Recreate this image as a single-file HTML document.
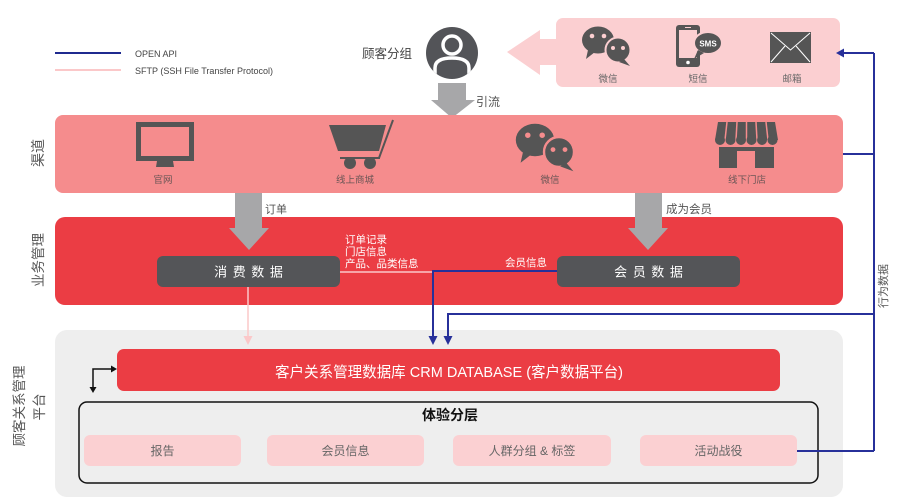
<!DOCTYPE html>
<html><head><meta charset="utf-8"><style>
html,body{margin:0;padding:0;background:#fff;}
svg{display:block;}
text{font-family:"Liberation Sans","Noto Sans CJK SC",sans-serif;}
</style></head><body>
<svg width="900" height="504" viewBox="0 0 900 504" xmlns="http://www.w3.org/2000/svg">
<defs>
<clipPath id="pc"><circle cx="452" cy="53" r="26"/></clipPath>
</defs>
<rect width="900" height="504" fill="#fff"/>

<!-- Legend -->
<line x1="55" y1="53" x2="121" y2="53" stroke="#1f2a8f" stroke-width="2"/>
<line x1="55" y1="70" x2="121" y2="70" stroke="#fbc8c9" stroke-width="2"/>
<text x="135" y="57" font-size="9" fill="#444">OPEN API</text>
<text x="135" y="74" font-size="9" fill="#444" textLength="138" lengthAdjust="spacingAndGlyphs">SFTP (SSH File Transfer Protocol)</text>

<!-- 顾客分组 -->
<text x="362" y="58" font-size="12.5" fill="#444">顾客分组</text>
<circle cx="452" cy="53" r="26" fill="#535458"/>
<g clip-path="url(#pc)">
<circle cx="452" cy="45" r="9" fill="none" stroke="#fff" stroke-width="3.5"/>
<path d="M435,78 L435,68 Q435,58 452,58 Q469,58 469,68 L469,78" fill="none" stroke="#fff" stroke-width="3.5"/>
</g>

<!-- 引流 arrow -->
<polygon points="438,83 466,83 466,100 475,100 452,118 431,100 438,100" fill="#a7a7a9"/>
<text x="476" y="106" font-size="12" fill="#555">引流</text>

<!-- top-right box and pink arrow -->
<polygon points="507,52 540,30 540,39 558,39 558,65 540,65 540,75" fill="#fbcfd1"/>
<rect x="556" y="18" width="284" height="69" rx="7" fill="#fbcfd1"/>

<!-- wechat top -->
<g transform="translate(598,40)">
<ellipse cx="0" cy="0" rx="16" ry="13.5" fill="#555"/>
<polygon points="-10,10 -12,19 -3,12" fill="#555"/>
<circle cx="-6" cy="-4" r="2.3" fill="#fbcfd1"/>
<circle cx="6" cy="-4" r="2.3" fill="#fbcfd1"/>
<circle cx="20" cy="10" r="12.5" fill="#555" stroke="#fbcfd1" stroke-width="2"/>
<polygon points="26,19 32,26 21,22" fill="#555"/>
<circle cx="15" cy="8" r="2" fill="#fbcfd1"/>
<circle cx="25" cy="8" r="2" fill="#fbcfd1"/>
</g>
<text x="608" y="82" font-size="9.5" fill="#666" text-anchor="middle">微信</text>

<!-- phone -->
<rect x="676" y="25" width="24" height="42" rx="3" fill="#555"/>
<rect x="679" y="30" width="18" height="28" fill="#fbcfd1"/>
<line x1="685" y1="27.5" x2="691" y2="27.5" stroke="#fbcfd1" stroke-width="1"/>
<circle cx="688" cy="62.5" r="1.8" fill="#fff"/>
<ellipse cx="708" cy="43" rx="14" ry="11" fill="#555" stroke="#fbcfd1" stroke-width="2"/>
<polygon points="698,50 694,59 704,53" fill="#555"/>
<text x="708" y="46.5" font-size="8" font-weight="bold" fill="#fff" text-anchor="middle">SMS</text>
<text x="698" y="82" font-size="9.5" fill="#666" text-anchor="middle">短信</text>

<!-- envelope -->
<rect x="770" y="32" width="41" height="31" fill="#555"/>
<polyline points="771,33 790.5,50 810,33" fill="none" stroke="#fff" stroke-width="1"/>
<line x1="771" y1="62" x2="785" y2="46" stroke="#fff" stroke-width="1"/>
<line x1="810" y1="62" x2="796" y2="46" stroke="#fff" stroke-width="1"/>
<text x="792" y="82" font-size="9.5" fill="#666" text-anchor="middle">邮箱</text>

<!-- 渠道 box -->
<rect x="55" y="115" width="788" height="78" rx="8" fill="#f58c8d"/>
<text transform="translate(43,153) rotate(-90)" font-size="14" fill="#555" text-anchor="middle">渠道</text>

<!-- monitor -->
<rect x="136" y="122" width="58" height="39" fill="#555"/>
<rect x="141" y="127" width="48" height="29" fill="#f58c8d"/>
<polygon points="157,161 173,161 174,167 156,167" fill="#555"/>
<text x="163" y="183" font-size="9.5" fill="#6a5555" text-anchor="middle">官网</text>

<!-- cart -->
<polygon points="329,125 386,125 379,151 338,151" fill="#555"/>
<line x1="393" y1="120" x2="379" y2="158" stroke="#555" stroke-width="2"/>
<line x1="340" y1="158" x2="380" y2="158" stroke="#555" stroke-width="2"/>
<circle cx="350" cy="163" r="6" fill="#555"/>
<circle cx="370" cy="163" r="6" fill="#555"/>
<text x="355" y="183" font-size="9.5" fill="#6a5555" text-anchor="middle">线上商城</text>

<!-- wechat channel -->
<g transform="translate(535,140) scale(1.2)">
<ellipse cx="0" cy="0" rx="16" ry="13.5" fill="#555"/>
<polygon points="-10,10 -12,19 -3,12" fill="#555"/>
<circle cx="-6" cy="-4" r="2.3" fill="#f58c8d"/>
<circle cx="6" cy="-4" r="2.3" fill="#f58c8d"/>
<circle cx="20" cy="10" r="12.5" fill="#555" stroke="#f58c8d" stroke-width="2"/>
<polygon points="26,19 32,26 21,22" fill="#555"/>
<circle cx="15" cy="8" r="2" fill="#f58c8d"/>
<circle cx="25" cy="8" r="2" fill="#f58c8d"/>
</g>
<text x="550" y="183" font-size="9.5" fill="#6a5555" text-anchor="middle">微信</text>

<!-- store -->
<polygon points="718,122 775,122 778,140 715,140" fill="#555"/>
<g stroke="#f58c8d" stroke-width="1.5">
<line x1="727" y1="122" x2="725" y2="140"/>
<line x1="737" y1="122" x2="736" y2="140"/>
<line x1="746.5" y1="122" x2="746.5" y2="140"/>
<line x1="756" y1="122" x2="757" y2="140"/>
<line x1="766" y1="122" x2="768" y2="140"/>
</g>
<g fill="#555">
<circle cx="720" cy="140" r="5"/><circle cx="730.5" cy="140" r="5"/><circle cx="741" cy="140" r="5"/><circle cx="751.5" cy="140" r="5"/><circle cx="762" cy="140" r="5"/><circle cx="772.5" cy="140" r="5"/>
</g>
<rect x="719" y="147" width="55" height="21" fill="#555"/>
<rect x="737" y="151" width="18" height="17" fill="#f58c8d"/>
<text x="747" y="183" font-size="9.5" fill="#6a5555" text-anchor="middle">线下门店</text>

<!-- 订单 arrow -->
<polygon points="235,193 262,193 262,228 269,228 249,250 229,228 235,228" fill="#a7a7a9"/>
<text x="265" y="213" font-size="11" fill="#555">订单</text>
<!-- 成为会员 arrow -->
<polygon points="635,193 662,193 662,228 668,228 648,250 628,228 635,228" fill="#a7a7a9"/>
<text x="666" y="213" font-size="11.5" fill="#555">成为会员</text>

<!-- 业务管理 box -->
<rect x="55" y="217" width="788" height="88" rx="10" fill="#eb3d44"/>
<text transform="translate(43,260) rotate(-90)" font-size="13.5" fill="#555" text-anchor="middle">业务管理</text>

<!-- redraw arrows tips over biz box -->
<polygon points="235,217 262,217 262,228 269,228 249,250 229,228 235,228" fill="#a7a7a9"/>
<polygon points="635,217 662,217 662,228 668,228 648,250 628,228 635,228" fill="#a7a7a9"/>

<rect x="157" y="256" width="183" height="31" rx="6" fill="#545558"/>
<text x="249" y="276.5" font-size="13" fill="#fff" text-anchor="middle" letter-spacing="1">消 费 数 据</text>
<rect x="557" y="256" width="183" height="31" rx="6" fill="#545558"/>
<text x="649" y="276.5" font-size="13" fill="#fff" text-anchor="middle" letter-spacing="1">会 员 数 据</text>

<text x="345" y="243" font-size="10.5" fill="#fff">订单记录</text>
<text x="345" y="255" font-size="10.5" fill="#fff">门店信息</text>
<text x="345" y="267" font-size="10.5" fill="#fff">产品、品类信息</text>
<text x="505" y="266" font-size="10.5" fill="#fff">会员信息</text>

<!-- gray platform -->
<rect x="55" y="330" width="788" height="167" rx="12" fill="#eeeeee"/>
<text transform="translate(24,406) rotate(-90)" font-size="13.5" fill="#555" text-anchor="middle">顾客关系管理</text>
<text transform="translate(44,407) rotate(-90)" font-size="13.5" fill="#555" text-anchor="middle">平台</text>

<rect x="117" y="349" width="663" height="42" rx="7" fill="#eb3d44"/>
<text x="449" y="377" font-size="15" fill="#fff" text-anchor="middle" textLength="348" lengthAdjust="spacingAndGlyphs">客户关系管理数据库 CRM DATABASE (客户数据平台)</text>

<rect x="79" y="402" width="739" height="81" rx="8" fill="none" stroke="#111" stroke-width="1.5"/>
<text x="450" y="420" font-size="14" font-weight="bold" fill="#111" text-anchor="middle">体验分层</text>

<rect x="84" y="435" width="157" height="31" rx="6" fill="#fbd0d2"/>
<text x="162.5" y="455" font-size="12" fill="#666" text-anchor="middle">报告</text>
<rect x="267" y="435" width="157" height="31" rx="6" fill="#fbd0d2"/>
<text x="345.5" y="455" font-size="12" fill="#666" text-anchor="middle">会员信息</text>
<rect x="453" y="435" width="158" height="31" rx="6" fill="#fbd0d2"/>
<text x="532" y="455" font-size="12" fill="#666" text-anchor="middle">人群分组 &amp; 标签</text>
<rect x="640" y="435" width="157" height="31" rx="6" fill="#fbd0d2"/>
<text x="718.5" y="455" font-size="12" fill="#666" text-anchor="middle">活动战役</text>

<!-- pink SFTP connectors -->
<line x1="340" y1="272" x2="433" y2="272" stroke="#fbc8c9" stroke-width="1.5"/>
<line x1="248" y1="287" x2="248" y2="337" stroke="#fbc8c9" stroke-width="1.5"/>
<polygon points="243.5,336 252.5,336 248,345" fill="#fbc8c9"/>

<!-- blue connectors -->
<g stroke="#27309a" stroke-width="2" fill="none">
<polyline points="557,271 433,271 433,337"/>
<polyline points="874,314 448,314 448,337"/>
<line x1="874" y1="53" x2="874" y2="451"/>
<line x1="874" y1="53" x2="842" y2="53"/>
<line x1="843" y1="154" x2="874" y2="154"/>
<line x1="797" y1="451" x2="874" y2="451"/>
</g>
<polygon points="428.5,336 437.5,336 433,345" fill="#27309a"/>
<polygon points="443.5,336 452.5,336 448,345" fill="#27309a"/>
<polygon points="836,53 844,48.5 844,57.5" fill="#27309a"/>
<text transform="translate(887,286) rotate(-90)" font-size="11" fill="#555" text-anchor="middle">行为数据</text>

<!-- black small connector -->
<polyline points="93,388 93,369 112,369" fill="none" stroke="#111" stroke-width="1.5"/>
<polygon points="111,365.5 117,369 111,372.5" fill="#111"/>
<polygon points="89.5,387 96.5,387 93,393" fill="#111"/>
</svg>
</body></html>
